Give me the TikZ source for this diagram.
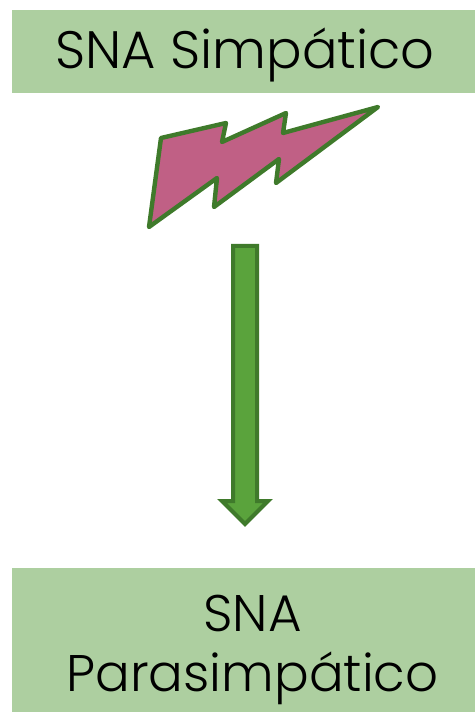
\documentclass[tikz,border=0pt]{standalone}
\usepackage{fontspec}
\setmainfont{Poppins Light}
\definecolor{boxgreen}{HTML}{ADCFA0}
\definecolor{arrowgreen}{HTML}{5AA33C}
\definecolor{edgegreen}{HTML}{3F7A2B}
\definecolor{boltpink}{HTML}{C06085}
\tikzset{
  banner/.style={fill=boxgreen,draw=none,inner sep=0pt},
  bannertext/.style={inner sep=0pt,align=center,text=black},
  boltline/.style={draw=edgegreen,line width=3.3pt,line join=round},
  arrowline/.style={draw=edgegreen,line width=3pt,line join=miter}
}
\begin{document}
\begin{tikzpicture}[x=0.75pt,y=-0.75pt]
\useasboundingbox (0,0) rectangle (475,712);
\node[banner,minimum width=0.75*463pt,minimum height=0.75*83pt] (top) at (243.5,51.5) {};
\node[banner,minimum width=0.75*463pt,minimum height=0.75*144pt] (bot) at (243.5,640) {};
\node[bannertext,font=\fontsize{39.5}{45}\selectfont] (toptext) at (245,55) {SNA Simpático};
\node[bannertext,font=\fontsize{38.6}{45}\selectfont] (bottext) at (252.5,650) {SNA\\Parasimpático};
\path[boltline,fill=boltpink] (378,107) -- (276,183) -- (279,159) -- (214,207) -- (217,178) -- (149,227) -- (161,138) -- (226,123) -- (222,142) -- (286,113) -- (283,133) -- cycle;
\path[arrowline,fill=arrowgreen] (233,246) -- (257,246) -- (257,501) -- (268,501) -- (245,524) -- (222,501) -- (233,501) -- cycle;
\end{tikzpicture}
\end{document}
